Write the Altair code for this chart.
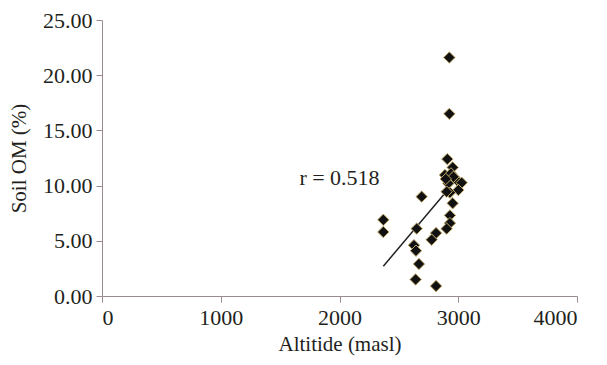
import altair as alt
import pandas as pd

# Data
altitude = [2925, 2925, 2908, 2953, 2888, 2939, 2987, 3029, 2917, 3001, 2930, 2902,
            2953, 2692, 2930, 2930, 2902, 2369, 2369, 2650, 2813, 2776, 2627, 2644,
            2669, 2641, 2813, 2960, 2895]
soil_om = [21.6, 16.5, 12.4, 11.65, 10.96, 11.1, 10.5, 10.26, 10.2, 9.6, 9.36, 9.45,
           8.4, 9.0, 7.3, 6.6, 6.1, 6.9, 5.8, 6.1, 5.7, 5.1, 4.6, 4.1,
           2.9, 1.5, 0.9, 10.8, 10.6]

trend_x = [2369, 2911]
trend_y = [2.7, 9.6]

label_text = ["r = 0.518"]
label_x = [2000]
label_y = [10.7]

x_ticks = [0, 1000, 2000, 3000, 4000]
y_ticks = [0, 5, 10, 15, 20, 25]

pts = pd.DataFrame({"alt": altitude, "om": soil_om})
trend = pd.DataFrame({"alt": trend_x, "om": trend_y})
lab = pd.DataFrame({"alt": label_x, "om": label_y, "t": label_text})

FONT = "Liberation Serif"
AXIS_COLOR = "#9a8c8c"
TEXT_COLOR = "#231f20"

xscale = alt.Scale(domain=[0, 4000], nice=False, zero=False)
yscale = alt.Scale(domain=[0, 25], nice=False, zero=False)

xenc = alt.X("alt:Q", scale=xscale,
             axis=alt.Axis(title="Altitide (masl)", values=x_ticks, format="d", grid=False))
yenc = alt.Y("om:Q", scale=yscale,
             axis=alt.Axis(title="Soil OM (%)", values=y_ticks, format=".2f", grid=False))

line = alt.Chart(trend).mark_line(color="#222222", strokeWidth=1.5).encode(x=xenc, y=yenc)

points = alt.Chart(pts).mark_point(
    shape="diamond", filled=True, fill="#111111", stroke="#c2aa6c",
    strokeWidth=1, size=130, opacity=1
).encode(x=xenc, y=yenc)

text = alt.Chart(lab).mark_text(
    font=FONT, fontSize=22, color=TEXT_COLOR, align="center", baseline="middle"
).encode(x=xenc, y=yenc, text="t:N")

chart = alt.layer(line, points, text).properties(
    width=475, height=276,
    autosize=alt.AutoSizeParams(type="none"),
    padding={"left": 94, "top": 12, "right": 22, "bottom": 61},
).configure_view(stroke=None).configure_axis(
    domainColor=AXIS_COLOR, tickColor=AXIS_COLOR, tickSize=6,
    labelFont=FONT, labelFontSize=22, labelColor=TEXT_COLOR,
    titleFont=FONT, titleFontSize=21, titleColor=TEXT_COLOR, titleFontWeight="normal",
).configure_axisX(labelPadding=5, titlePadding=5).configure_axisY(labelPadding=4, titlePadding=13)

chart.save("out.html", embed_options={"renderer": "svg", "actions": False})
